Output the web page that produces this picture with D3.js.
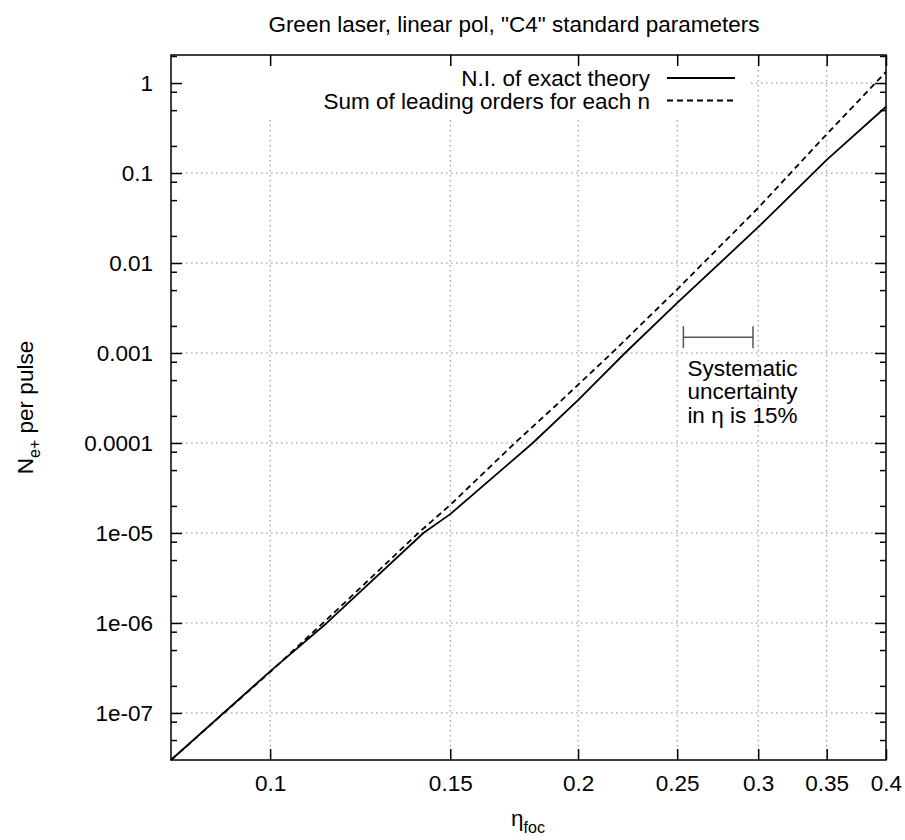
<!DOCTYPE html>
<html>
<head>
<meta charset="utf-8">
<script src="https://cdn.jsdelivr.net/npm/d3@7"></script>
<style>
  html, body { margin: 0; padding: 0; background: #fff; }
  svg { display: block; font-family: "Liberation Sans", Arial, sans-serif; }
</style>
</head>
<body>
<svg id="chart" width="905" height="840"></svg>
<script>
// Pair-production yield versus focal eta (log-log)
const etaExact = [0.08, 0.1, 0.1136, 0.1412, 0.15, 0.1806, 0.2, 0.2223, 0.25, 0.3, 0.35, 0.4];
const nExact   = [3.0e-8, 2.9e-7, 1.0e-6, 1.0e-5, 1.62e-5, 1.0e-4, 3.0e-4, 1.0e-3, 3.6e-3, 0.025, 0.14, 0.545];

const etaLeading = [0.08, 0.1, 0.1162, 0.1396, 0.15, 0.1735, 0.1928, 0.2158, 0.25, 0.3, 0.35, 0.4];
const nLeading   = [3.0e-8, 2.85e-7, 1.39e-6, 1.0e-5, 2.05e-5, 1.0e-4, 3.0e-4, 1.0e-3, 5.1e-3, 0.041, 0.27, 1.33];

const xTicks = [0.1, 0.15, 0.2, 0.25, 0.3, 0.35, 0.4];
const xTickLabels = ["0.1", "0.15", "0.2", "0.25", "0.3", "0.35", "0.4"];
const yTicks = [1e-7, 1e-6, 1e-5, 1e-4, 1e-3, 1e-2, 1e-1, 1];
const yTickLabels = ["1e-07", "1e-06", "1e-05", "0.0001", "0.001", "0.01", "0.1", "1"];
const yMinorMantissa = [2, 5, 8];

const seriesNames = ["N.I. of exact theory", "Sum of leading orders for each n"];
const titleText = "Green laser, linear pol, \"C4\" standard parameters";
const noteLines = ["Systematic", "uncertainty", "in \u03b7 is 15%"];
const errEta = [0.2535, 0.2965];
const errLevel = 1.5e-3;

const margin = { left: 171, right: 886, top: 55, bottom: 760 };
const svg = d3.select("#chart");

const x = d3.scaleLog().domain([0.08, 0.4]).range([margin.left, margin.right]);
const y = d3.scaleLog().domain([3.0e-8, 2.05]).range([margin.bottom, margin.top]);

const fontSize = 22.5;

// grid
const grid = svg.append("g").attr("stroke", "#888").attr("stroke-width", 1)
  .attr("stroke-dasharray", "1.5,3.5");
grid.selectAll("line.gx").data(xTicks.filter(d => d < 0.4)).join("line")
  .attr("x1", d => x(d)).attr("x2", d => x(d))
  .attr("y1", margin.top).attr("y2", margin.bottom);
grid.selectAll("line.gy").data(yTicks).join("line")
  .attr("x1", margin.left).attr("x2", margin.right)
  .attr("y1", d => y(d)).attr("y2", d => y(d));

// opaque key area
svg.append("rect").attr("x", margin.left + 1).attr("y", margin.top + 1)
  .attr("width", 748 - margin.left).attr("height", 116 - margin.top)
  .attr("fill", "#fff");

// curves
const line = d3.line().x(d => x(d[0])).y(d => y(d[1]));
svg.append("path").datum(d3.zip(etaExact, nExact))
  .attr("d", line).attr("fill", "none").attr("stroke", "#000").attr("stroke-width", 1.8)
  .attr("stroke-linejoin", "round");
svg.append("path").datum(d3.zip(etaLeading, nLeading))
  .attr("d", line).attr("fill", "none").attr("stroke", "#000").attr("stroke-width", 1.8)
  .attr("stroke-dasharray", "6,4");

// axes (ticks point inward, mirrored on top and right)
function styleAxis(g) {
  g.select(".domain").remove();
  g.selectAll(".tick line").attr("stroke", "#000").attr("stroke-width", 1.5);
  g.selectAll(".tick text").attr("fill", "#000").style("font-size", fontSize + "px")
    .style("font-family", "'Liberation Sans', Arial, sans-serif");
}
svg.append("g").attr("transform", `translate(0,${margin.bottom})`)
  .call(d3.axisBottom(x).tickValues(xTicks).tickFormat((d, i) => xTickLabels[i])
    .tickSizeInner(-11).tickSizeOuter(0).tickPadding(15))
  .call(styleAxis);
svg.append("g").attr("transform", `translate(0,${margin.top})`)
  .call(d3.axisTop(x).tickValues(xTicks).tickFormat("").tickSizeInner(-11).tickSizeOuter(0))
  .call(styleAxis);
svg.append("g").attr("transform", `translate(${margin.left},0)`)
  .call(d3.axisLeft(y).tickValues(yTicks).tickFormat((d, i) => yTickLabels[i])
    .tickSizeInner(-11).tickSizeOuter(0).tickPadding(18))
  .call(styleAxis);
svg.append("g").attr("transform", `translate(${margin.right},0)`)
  .call(d3.axisRight(y).tickValues(yTicks).tickFormat("").tickSizeInner(-11).tickSizeOuter(0))
  .call(styleAxis);

const yMinor = [];
for (let e = -8; e <= 0; e++) yMinorMantissa.forEach(m => {
  const v = m * Math.pow(10, e);
  if (v > y.domain()[0] && v < y.domain()[1]) yMinor.push(v);
});
svg.append("g").attr("transform", `translate(${margin.left},0)`)
  .call(d3.axisLeft(y).tickValues(yMinor).tickFormat("").tickSizeInner(-6).tickSizeOuter(0))
  .call(styleAxis);
svg.append("g").attr("transform", `translate(${margin.right},0)`)
  .call(d3.axisRight(y).tickValues(yMinor).tickFormat("").tickSizeInner(-6).tickSizeOuter(0))
  .call(styleAxis);

// frame
svg.append("rect").attr("x", margin.left).attr("y", margin.top)
  .attr("width", margin.right - margin.left).attr("height", margin.bottom - margin.top)
  .attr("fill", "none").attr("stroke", "#000").attr("stroke-width", 1.5);

// key
const key = svg.append("g").style("font-size", fontSize + "px");
seriesNames.forEach((name, i) => {
  const yy = 78 + i * 22.5;
  key.append("text").attr("x", 650).attr("y", yy + 8).attr("text-anchor", "end")
    .text(name);
  key.append("line").attr("x1", 667).attr("x2", 735).attr("y1", yy).attr("y2", yy)
    .attr("stroke", "#000").attr("stroke-width", 1.8)
    .attr("stroke-dasharray", i === 1 ? "6,4" : null);
});

// systematic uncertainty bar
const barY = y(errLevel);
const eb = svg.append("g").attr("stroke", "#555").attr("stroke-width", 1.5);
eb.append("line").attr("x1", x(errEta[0])).attr("x2", x(errEta[1])).attr("y1", barY).attr("y2", barY);
errEta.forEach(e => eb.append("line").attr("x1", x(e)).attr("x2", x(e))
  .attr("y1", barY - 11).attr("y2", barY + 11));
const note = svg.append("text").style("font-size", fontSize + "px")
  .attr("x", x(errEta[0]) + 4).attr("y", barY + 38.5);
noteLines.forEach((t, i) => note.append("tspan").attr("x", x(errEta[0]) + 4)
  .attr("dy", i === 0 ? 0 : 23.5).text(t));

// title and axis labels
svg.append("text").attr("x", 514).attr("y", 32).attr("text-anchor", "middle")
  .style("font-size", fontSize + "px").text(titleText);

const xl = svg.append("text").attr("x", 528).attr("y", 826).attr("text-anchor", "middle")
  .style("font-size", fontSize + "px");
xl.append("tspan").text("\u03b7");
xl.append("tspan").attr("dy", 7).style("font-size", "16px").text("foc");

const yl = svg.append("text")
  .attr("transform", `translate(33,${(margin.top + margin.bottom) / 2}) rotate(-90)`)
  .attr("text-anchor", "middle").style("font-size", fontSize + "px");
yl.append("tspan").text("N");
yl.append("tspan").attr("dy", 7).style("font-size", "16px").text("e+");
yl.append("tspan").attr("dy", -7).text(" per pulse");
</script>
</body>
</html>
